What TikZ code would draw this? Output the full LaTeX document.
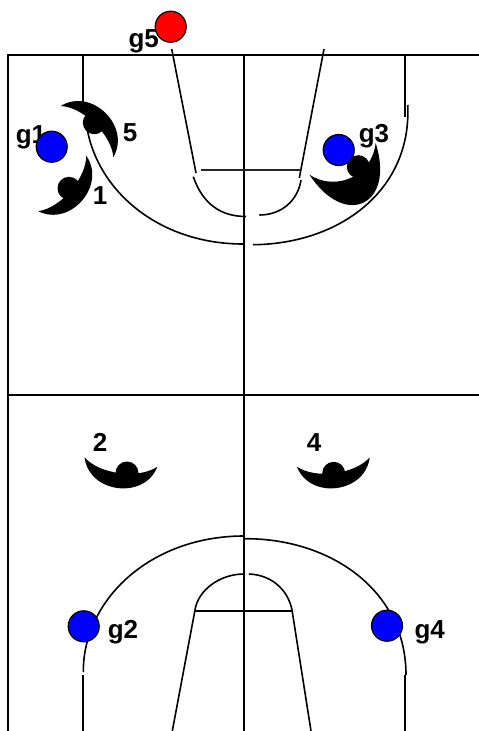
\documentclass[tikz,border=0pt]{standalone}
\usepackage{fontspec}
\setmainfont{Liberation Sans}
\usetikzlibrary{positioning}

\begin{document}
\begin{tikzpicture}[
    x=1pt, y=-1pt,
    court/.style={line width=1.6pt},
    guard/.style={circle, draw, line width=1.2pt, minimum size=31pt, inner sep=0pt},
    head/.style={circle, fill=black, minimum size=23pt, inner sep=0pt},
    tag/.style={anchor=base, inner sep=0pt, font=\bfseries\fontsize{26}{26}\selectfont},
    crescent/.pic={
        \fill (-36.7,0) .. controls (-28,35) and (28,35) .. (36.7,0)
                        .. controls (20,15) and (-20,15) .. cycle;
    }
]
    \useasboundingbox (0,0) rectangle (479,731);

    % Court outline
    \draw [court] (479,55) -- (8,55) -- (8,731);
    \draw [court] (8,395) -- (479,395);
    \draw [court] (244,55) -- (244,731);

    % Top half
    \draw [court] (83,55) -- (83,110);
    \draw [court] (405,55) -- (405,117);
    \draw [court] (87,128) .. controls (98,192) and (160,244) .. (243,244);
    \draw [court] (253,244.7) .. controls (340,244) and (412,190) .. (407.7,105);
    \draw [court] (171.7,49) -- (196,173);
    \draw [court] (324,49) -- (299.3,178);
    \draw [line width=1.6pt, black!85] (201,169.9) -- (300,169.9);
    \draw [court] (193.3,176.7) .. controls (203,205) and (222,216.5) .. (246,216.5);
    \draw [court] (259.3,215) .. controls (282,215) and (298,200) .. (301,180);

    % Bottom half
    \draw [court] (83,675) -- (83,731);
    \draw [court] (405,675) -- (405,731);
    \draw [court] (83.3,672) .. controls (83,600) and (150,536) .. (244,536);
    \draw [court] (244,538.7) .. controls (330,538) and (406,590) .. (406,675);
    \draw [court] (172.3,731) -- (195,610) .. controls (198,590) and (220,574) .. (244,574);
    \draw [court] (249,574) .. controls (272,575) and (288,590) .. (292,610) -- (311,731);
    \draw [court] (195,610.7) -- (292,610.7);

    % Labels
    \node [tag] (lg5) at (143.7,47) {g5};
    \node [tag] (lg1) at (31,143) {g1};
    \node [tag] (lg3) at (374,142) {g3};
    \node [tag] (lg2) at (123,638.3) {g2};
    \node [tag] (lg4) at (429.7,638.3) {g4};
    \node [tag] (l5) at (130,141.3) {5};
    \node [tag] (l1) at (100,204) {1};
    \node [tag] (l2) at (100,451.7) {2};
    \node [tag] (l4) at (314,451.7) {4};

    % Players
    \pic [rotate=135.8] at (87,131.6) {crescent};
    \pic [rotate=49.2] at (62.2,183.4) {crescent};
    \pic [rotate=25.5, yscale=1.85] at (342.5,158.8) {crescent};
    \pic [rotate=-7.3] at (121,462) {crescent};
    \pic [rotate=7.3] at (333.3,462) {crescent};
    \node [head] (p5) at (94.3,122.7) {};
    \node [head] (p1) at (69,188.3) {};
    \node [head] (p3) at (358.3,166.7) {};
    \node [head] (p2) at (127,473) {};
    \node [head] (p4) at (333.7,473.3) {};

    % Guards
    \node [guard, fill=red] (g5) at (170.7,26.7) {};
    \node [guard, fill=blue] (g1) at (51.7,146.7) {};
    \node [guard, fill=blue] (g3) at (338.7,150) {};
    \node [guard, fill=blue] (g2) at (83.7,626.3) {};
    \node [guard, fill=blue] (g4) at (387,625.7) {};

\end{tikzpicture}
\end{document}
